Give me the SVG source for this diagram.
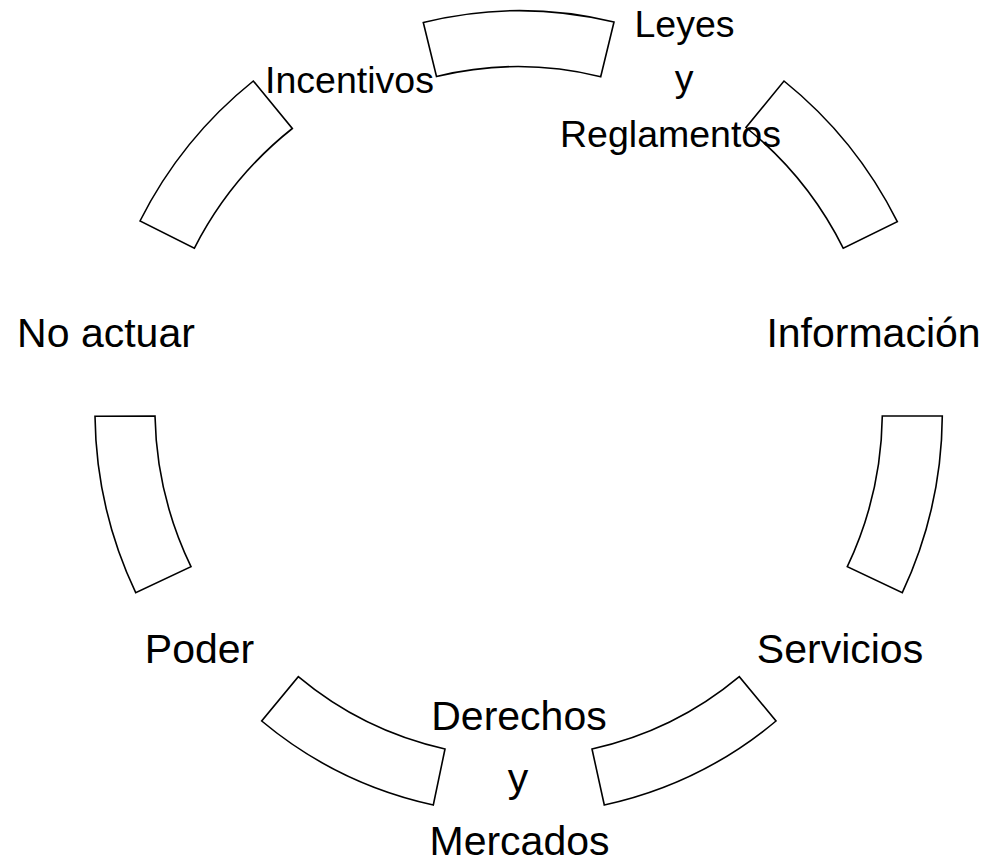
<svg xmlns="http://www.w3.org/2000/svg" width="990" height="864" viewBox="0 0 990 864">
<style>
.seg{fill:#ffffff;stroke:#000000;stroke-width:1.6;stroke-linejoin:miter}
.lbl{font-family:"Liberation Sans",Arial,sans-serif;fill:#000000;text-anchor:middle}
.big{font-size:41px}
.sm{font-size:37.5px}
</style>
<rect width="990" height="864" fill="#ffffff"/>
<g id="connectors"></g>
<g id="seg-top"><path class="seg" d="M423.3,22.5 A401,401 0 0 1 614,22 L600.7,76.7 A345,345 0 0 0 436.5,76.5 Z"/></g>
<g id="seg-upper-right"><path class="seg" d="M784,81 A424,424 0 0 1 897.3,221.7 L843.3,248.3 A363,363 0 0 0 746,127.5 Z"/></g>
<g id="seg-right"><path class="seg" d="M942.3,416 A424,424 0 0 1 902.3,592.7 L847.3,566.7 A363,363 0 0 0 882.3,416 Z"/></g>
<g id="seg-bottom-right"><path class="seg" d="M776,721 A401,401 0 0 1 604.3,805 L592,749 A345,345 0 0 0 739.3,676.7 Z"/></g>
<g id="seg-bottom-left"><path class="seg" d="M433.3,805 A401,401 0 0 1 261.7,721 L298.3,676.7 A345,345 0 0 0 445,749 Z"/></g>
<g id="seg-left"><path class="seg" d="M135.7,592.7 A424,424 0 0 1 95,416.3 L155,416 A363,363 0 0 0 191,566.7 Z"/></g>
<g id="seg-upper-left"><path class="seg" d="M140,221 A424,424 0 0 1 253.3,81 L292.3,128.5 A363,363 0 0 0 194.3,248.3 Z"/></g>
<g id="node-leyes">
<text class="lbl sm" x="684.5" y="36.5">Leyes</text>
<text class="lbl sm" x="684" y="91">y</text>
<text class="lbl sm" x="670.5" y="146.5">Reglamentos</text>
</g>
<g id="node-informacion"><text class="lbl big" x="873.5" y="346.7">Información</text></g>
<g id="node-servicios"><text class="lbl big" x="840" y="662.5">Servicios</text></g>
<g id="node-derechos">
<text class="lbl big" x="519" y="730">Derechos</text>
<text class="lbl big" x="518" y="792">y</text>
<text class="lbl big" x="519.5" y="855">Mercados</text>
</g>
<g id="node-poder"><text class="lbl big" x="199.5" y="662.5">Poder</text></g>
<g id="node-noactuar"><text class="lbl big" x="106" y="346.7">No actuar</text></g>
<g id="node-incentivos"><text class="lbl sm" x="349.5" y="93.3">Incentivos</text></g>
</svg>
